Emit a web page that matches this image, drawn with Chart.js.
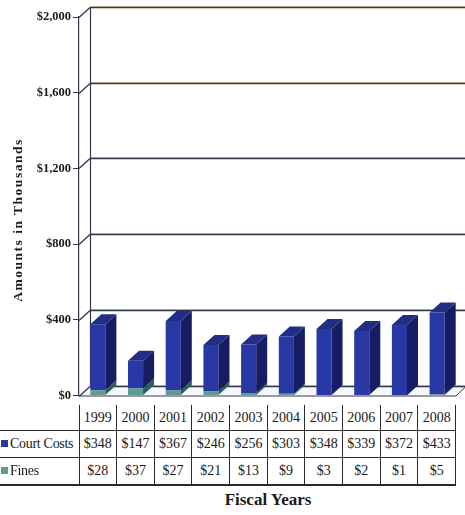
<!DOCTYPE html>
<html>
<head>
<meta charset="utf-8">
<script src="https://cdn.jsdelivr.net/npm/chart.js@4"></script>
<style>
  html, body { margin: 0; padding: 0; background: #fff; }
  #wrap { position: relative; width: 465px; height: 515px; overflow: hidden; font-family: 'Liberation Serif', 'Times New Roman', serif; color: #1a1a1a; }
  #chart-box { position: absolute; left: 0; top: 0; width: 465px; height: 405px; }
  #y-title { position: absolute; left: 18px; top: 220px; transform: translate(-50%, -50%) rotate(-90deg); white-space: nowrap; font-weight: bold; font-size: 13.5px; letter-spacing: 1.5px; }
  #x-title { position: absolute; left: 168px; top: 490px; width: 200px; text-align: center; font-weight: bold; font-size: 17px; }
  #tbl { position: absolute; left: 0; top: 405px; border-collapse: collapse; table-layout: fixed; width: 456px; font-size: 14px; }
  #tbl td { padding: 0; text-align: center; border: 1px solid #2a2a2a; white-space: nowrap; overflow: hidden; }
  #tbl tr.hdr td { height: 25px; border-top: none; }
  #tbl tr.hdr td.lbl { border: none; border-bottom: 1px solid #2a2a2a; }
  #tbl tr.row td { height: 26px; }
  #tbl tr.row td.lbl { border-left: none; text-align: left; padding-left: 1px; letter-spacing: -0.3px; }
  #tbl tr.last td { border-bottom: 2px solid #2a2a2a; }
  .sw { display: inline-block; width: 7px; height: 7px; margin-right: 2px; vertical-align: 1px; }
</style>
</head>
<body>
<div id="wrap">
  <div id="chart-box"><canvas id="c"></canvas></div>
  <div id="y-title">Amounts in Thousands</div>
  <table id="tbl"></table>
  <div id="x-title">Fiscal Years</div>
</div>
<script>
  // ── 資料 ─────────────────────────────────────────────
  const years = ['1999', '2000', '2001', '2002', '2003', '2004', '2005', '2006', '2007', '2008'];
  const courtCosts = [348, 147, 367, 246, 256, 303, 348, 339, 372, 433];
  const fines = [28, 37, 27, 21, 13, 9, 3, 2, 1, 5];
  const yTicks = [0, 400, 800, 1200, 1600, 2000];

  // ── 顏色 ─────────────────────────────────────────────
  const COURT_FRONT = '#2838a4';
  const COURT_SIDE = '#171d63';
  const COURT_TOP = '#222e86';
  const FINES_FRONT = '#5e9c90';
  const FINES_SIDE = '#2b5f5a';
  const LINE = '#33354a';

  const DX = 11, DY = -10; // 3D 深度

  const money = v => '$' + v.toLocaleString('en-US');

  // ── 資料表 ───────────────────────────────────────────
  const tbl = document.getElementById('tbl');
  let html = '<colgroup><col style="width:79px">' + years.map(() => '<col>').join('') + '</colgroup>';
  html += '<tr class="hdr"><td class="lbl"></td>' + years.map(y => `<td>${y}</td>`).join('') + '</tr>';
  html += `<tr class="row"><td class="lbl"><span class="sw" style="background:${COURT_FRONT}"></span>Court Costs</td>` +
    courtCosts.map(v => `<td>${money(v)}</td>`).join('') + '</tr>';
  html += `<tr class="row last"><td class="lbl"><span class="sw" style="background:${FINES_FRONT}"></span>Fines</td>` +
    fines.map(v => `<td>${money(v)}</td>`).join('') + '</tr>';
  tbl.innerHTML = html;

  // ── 3D 背牆、地板與柱體側面 ──────────────────────────
  const box3d = {
    id: 'box3d',
    beforeDatasetsDraw(chart) {
      const { ctx, chartArea: a, scales: { y } } = chart;
      ctx.save();
      // 地板
      const b = a.bottom;
      ctx.fillStyle = '#f4f7fb';
      ctx.beginPath();
      ctx.moveTo(a.left, b); ctx.lineTo(a.left + DX, b + DY);
      ctx.lineTo(a.right + DX, b + DY); ctx.lineTo(a.right, b);
      ctx.closePath(); ctx.fill();
      ctx.strokeStyle = LINE; ctx.lineWidth = 1;
      ctx.beginPath();
      ctx.moveTo(a.left, b + 0.5); ctx.lineTo(a.right, b + 0.5);
      ctx.lineTo(a.right + DX, b + DY);
      ctx.stroke();
      // 背牆格線
      yTicks.forEach(v => {
        const py = Math.round(y.getPixelForValue(v) + DY) + 0.5;
        ctx.strokeStyle = '#e9cda6'; ctx.lineWidth = 1;
        ctx.beginPath(); ctx.moveTo(a.left + DX, py - 1); ctx.lineTo(a.right + DX + 20, py - 1); ctx.stroke();
        ctx.strokeStyle = LINE; ctx.lineWidth = 1.3;
        ctx.beginPath(); ctx.moveTo(a.left + DX, py); ctx.lineTo(a.right + DX + 20, py); ctx.stroke();
        // 斜線連接
        ctx.beginPath(); ctx.moveTo(a.left, py - DY); ctx.lineTo(a.left + DX, py); ctx.stroke();
      });
      // 背牆左緣
      ctx.strokeStyle = LINE; ctx.lineWidth = 1.2;
      ctx.beginPath();
      ctx.moveTo(a.left + DX + 0.5, a.top + DY); ctx.lineTo(a.left + DX + 0.5, a.bottom + DY);
      ctx.stroke();
      ctx.restore();
    },
    afterDatasetsDraw(chart) {
      const { ctx } = chart;
      ctx.save();
      const n = chart.data.datasets.length;
      chart.data.datasets.forEach((ds, di) => {
        const meta = chart.getDatasetMeta(di);
        meta.data.forEach(bar => {
          const { x, y, base, width } = bar.getProps(['x', 'y', 'base', 'width'], true);
          const left = x - width / 2, right = x + width / 2;
          const top = Math.min(y, base), bottom = Math.max(y, base);
          ctx.fillStyle = ds.sideColor;
          ctx.beginPath();
          ctx.moveTo(right, top); ctx.lineTo(right + DX, top + DY);
          ctx.lineTo(right + DX, bottom + DY); ctx.lineTo(right, bottom);
          ctx.closePath(); ctx.fill();
          if (di === n - 1) {
            ctx.fillStyle = ds.topColor;
            ctx.beginPath();
            ctx.moveTo(left, top); ctx.lineTo(left + DX, top + DY);
            ctx.lineTo(right + DX, top + DY); ctx.lineTo(right, top);
            ctx.closePath(); ctx.fill();
          }
        });
      });
      ctx.restore();
    }
  };

  new Chart(document.getElementById('c'), {
    type: 'bar',
    data: {
      labels: years,
      datasets: [
        { label: 'Fines', data: fines, backgroundColor: FINES_FRONT, sideColor: FINES_SIDE, topColor: FINES_FRONT },
        { label: 'Court Costs', data: courtCosts, backgroundColor: COURT_FRONT, sideColor: COURT_SIDE, topColor: COURT_TOP },
      ],
    },
    options: {
      responsive: true,
      maintainAspectRatio: false,
      animation: false,
      layout: { padding: { top: 17, right: 9, bottom: 2, left: 0 } },
      datasets: { bar: { categoryPercentage: 1, barPercentage: 0.4, borderWidth: 0 } },
      plugins: { legend: { display: false }, tooltip: { enabled: false } },
      scales: {
        x: { stacked: true, display: false },
        y: {
          stacked: true,
          min: 0,
          max: 2000,
          afterFit(scale) { scale.width = 79; },
          ticks: {
            stepSize: 400,
            padding: 2,
            color: '#1a1a1a',
            font: { family: "'Liberation Serif', serif", size: 12.5, weight: 'bold' },
            callback: v => money(v),
          },
          grid: { drawOnChartArea: false, drawTicks: true, tickLength: 6, color: LINE, lineWidth: 1 },
          border: { display: true, color: LINE, width: 1.2 },
        },
      },
    },
    plugins: [box3d],
  });
</script>
</body>
</html>
